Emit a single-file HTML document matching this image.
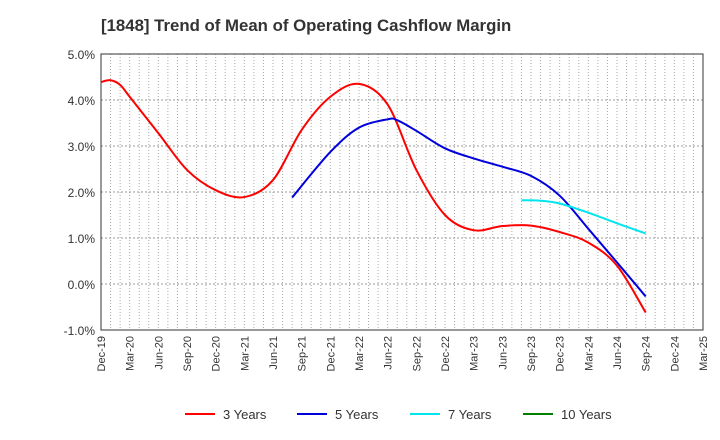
<!DOCTYPE html>
<html><head><meta charset="utf-8"><style>
body{margin:0;background:#fff;font-family:"Liberation Sans",sans-serif}
</style></head><body>
<svg id="c" width="720" height="440" style="display:block">
<text x="101" y="31" text-anchor="start" font-size="16.8" font-weight="bold" fill="#333">[1848]  Trend of Mean of Operating Cashflow Margin</text>
</svg>
<script>
const xLabels=["Dec-19","Mar-20","Jun-20","Sep-20","Dec-20","Mar-21","Jun-21","Sep-21","Dec-21","Mar-22","Jun-22","Sep-22","Dec-22","Mar-23","Jun-23","Sep-23","Dec-23","Mar-24","Jun-24","Sep-24","Dec-24","Mar-25"];
const yTicks=[-1,0,1,2,3,4,5];
const m3=[0,1,2,3,6,9,12,15,18,21,24,27,30,33,36,39,42,45,48,51,54,57];
const v3=[4.39,4.43,4.33,4.07,3.28,2.48,2.04,1.89,2.26,3.35,4.07,4.35,3.9,2.48,1.5,1.17,1.26,1.27,1.13,0.9,0.4,-0.62];
const m5=[20,24,27,30,31,33,36,39,42,45,48,51,54,57];
const v5=[1.88,2.87,3.4,3.58,3.56,3.33,2.95,2.73,2.55,2.35,1.92,1.2,0.47,-0.27];
const m7=[44,46,48,51,54,57];
const v7=[1.82,1.81,1.75,1.55,1.32,1.1];
const m10=[];const v10=[];
const L=101,R=703,T=54,B=330;
const X=m=>L+(R-L)*m/63, Y=v=>B-(B-T)*(v+1)/6;
const svg=document.getElementById('c');const NS="http://www.w3.org/2000/svg";
function mk(t,a){const e=document.createElementNS(NS,t);for(const k in a)e.setAttribute(k,a[k]);svg.appendChild(e);return e;}
for(let m=1;m<63;m++){const g=mk('line',{x1:X(m),x2:X(m),y1:T,y2:B,stroke:'#aaa','stroke-dasharray':'1,2','stroke-width':1});

}
yTicks.forEach(v=>{if(v>-1&&v<5){const g=mk('line',{x1:L,x2:R,y1:Y(v),y2:Y(v),stroke:'#999','stroke-dasharray':'2,2'});

}
const t=mk('text',{x:L-6,y:Y(v)+5,'text-anchor':'end','font-size':12,fill:'#333'});t.textContent=v.toFixed(1)+'%';

});
const fr=mk('rect',{x:L,y:T,width:R-L,height:B-T,fill:'none',stroke:'#333'});


xLabels.forEach((s,i)=>{const x=X(i*3);const t=mk('text',{x:x+4,y:B+6,'text-anchor':'end','font-size':11,fill:'#333',transform:`rotate(-90 ${x+4} ${B+6})`});t.textContent=s;

});
function path(ms,vs){const p=ms.map((m,i)=>[X(m),Y(vs[i])]);if(!p.length)return '';let d=`M${p[0][0]},${p[0][1]}`;
for(let i=0;i<p.length-1;i++){const p0=p[i-1]||p[i],p1=p[i],p2=p[i+1],p3=p[i+2]||p2;
d+=` C${p1[0]+(p2[0]-p0[0])/6},${p1[1]+(p2[1]-p0[1])/6} ${p2[0]-(p3[0]-p1[0])/6},${p2[1]-(p3[1]-p1[1])/6} ${p2[0]},${p2[1]}`;}return d;}
[[m3,v3,'#ff0000','series-3-years'],[m5,v5,'#0000dd','series-5-years'],[m7,v7,'#00e5ee','series-7-years'],[m10,v10,'#008000','series-10-years']].forEach(s=>{
if(!s[0].length)return;const e=mk('path',{d:path(s[0],s[1]),fill:'none',stroke:s[2],'stroke-width':2});

});
const leg=[["3 Years",'#ff0000',185],["5 Years",'#0000dd',297],["7 Years",'#00e5ee',410],["10 Years",'#008000',523]];
leg.forEach(l=>{const a=mk('line',{x1:l[2],x2:l[2]+30,y1:414,y2:414,stroke:l[1],'stroke-width':2});


const t=mk('text',{x:l[2]+38,y:419,'font-size':13,fill:'#333'});t.textContent=l[0];

});
</script>
</body></html>
